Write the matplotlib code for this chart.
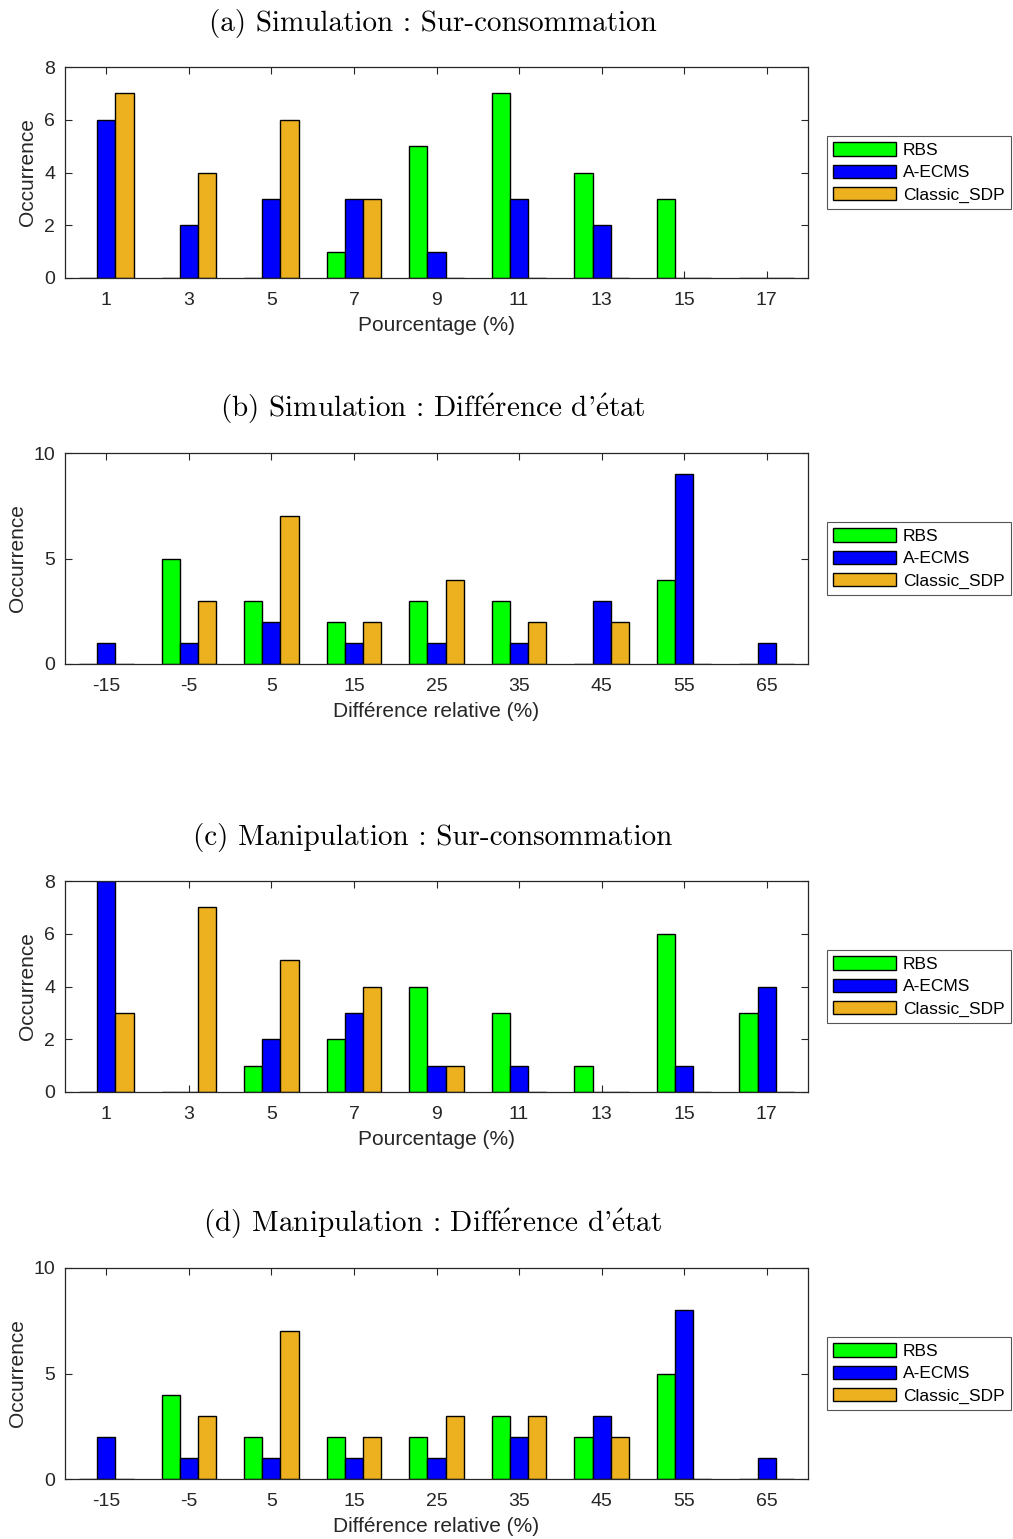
import numpy as np
import matplotlib
matplotlib.use("Agg")
import matplotlib.pyplot as plt

# Data
series_names = ["RBS", "A-ECMS", "Classic_SDP"]
bar_colors = ["#00ff00", "#0000ff", "#edb120"]

pct_labels = ["1", "3", "5", "7", "9", "11", "13", "15", "17"]
diff_labels = ["-15", "-5", "5", "15", "25", "35", "45", "55", "65"]

# (a) Simulation : Sur-consommation
sim_sur_rbs = [0, 0, 0, 1, 5, 7, 4, 3, 0]
sim_sur_aecms = [6, 2, 3, 3, 1, 3, 2, 0, 0]
sim_sur_sdp = [7, 4, 6, 3, 0, 0, 0, 0, 0]

# (b) Simulation : Difference d'etat
sim_diff_rbs = [0, 5, 3, 2, 3, 3, 0, 4, 0]
sim_diff_aecms = [1, 1, 2, 1, 1, 1, 3, 9, 1]
sim_diff_sdp = [0, 3, 7, 2, 4, 2, 2, 0, 0]

# (c) Manipulation : Sur-consommation
man_sur_rbs = [0, 0, 1, 2, 4, 3, 1, 6, 3]
man_sur_aecms = [8, 0, 2, 3, 1, 1, 0, 1, 4]
man_sur_sdp = [3, 7, 5, 4, 1, 0, 0, 0, 0]

# (d) Manipulation : Difference d'etat
man_diff_rbs = [0, 4, 2, 2, 2, 3, 2, 5, 0]
man_diff_aecms = [2, 1, 1, 1, 1, 2, 3, 8, 1]
man_diff_sdp = [0, 3, 7, 2, 3, 3, 2, 0, 0]

# titles: accents drawn with mathtext (cmr10 has no é); "'" is a right quote in cmr10
panels = [
    ("(a) Simulation : Sur-consommation", pct_labels, "Pourcentage (%)",
     [sim_sur_rbs, sim_sur_aecms, sim_sur_sdp], 8, [0, 2, 4, 6, 8]),
    (r"(b) Simulation : Diff$\mathrm{\acute{e}}$rence d'$\mathrm{\acute{e}}$tat", diff_labels,
     "Différence relative (%)",
     [sim_diff_rbs, sim_diff_aecms, sim_diff_sdp], 10, [0, 5, 10]),
    ("(c) Manipulation : Sur-consommation", pct_labels, "Pourcentage (%)",
     [man_sur_rbs, man_sur_aecms, man_sur_sdp], 8, [0, 2, 4, 6, 8]),
    (r"(d) Manipulation : Diff$\mathrm{\acute{e}}$rence d'$\mathrm{\acute{e}}$tat", diff_labels,
     "Différence relative (%)",
     [man_diff_rbs, man_diff_aecms, man_diff_sdp], 10, [0, 5, 10]),
]

plt.rcParams["font.family"] = ["Liberation Sans", "DejaVu Sans"]
plt.rcParams["mathtext.fontset"] = "cm"
axcol = "#262626"

W, H = 1013, 1539
fig = plt.figure(figsize=(W / 100, H / 100), dpi=100)

# axes boxes in pixels (top, bottom)
boxes = [(67, 278), (453, 664), (881, 1092), (1268, 1479)]
left_px, right_px = 65, 808

bw = 0.22
for (title, labels, xlabel, vals, ymax, yticks), (top, bot) in zip(panels, boxes):
    ax = fig.add_axes([left_px / W, 1 - bot / H, (right_px - left_px) / W, (bot - top) / H])
    x = np.arange(len(labels))
    for k, (v, c, name) in enumerate(zip(vals, bar_colors, series_names)):
        ax.bar(x + (k - 1) * bw, v, width=bw, color=c, edgecolor="black",
               linewidth=1.0, label=name, zorder=2)
    ax.set_xlim(-0.5, len(labels) - 0.5)
    ax.set_ylim(0, ymax)
    ax.set_xticks(x)
    ax.set_xticklabels(labels)
    ax.set_yticks(yticks)
    ax.tick_params(direction="in", top=True, right=True, length=5, width=0.8,
                   colors=axcol, labelsize=14, pad=7)
    ax.tick_params(axis="x", pad=10)
    for s in ax.spines.values():
        s.set_color(axcol)
        s.set_linewidth(0.9)
    ax.set_xlabel(xlabel, fontsize=15, color=axcol, labelpad=5)
    ax.set_ylabel("Occurrence", fontsize=15, color=axcol, labelpad=5)
    ax.text(0.495, 1 + 44 / (bot - top), title, transform=ax.transAxes,
            ha="center", va="center", fontsize=21,
            family=["cmr10", "DejaVu Serif"])
    leg = ax.legend(loc="center left", bbox_to_anchor=(1.026, 0.5), fontsize=12.5,
                    fancybox=False, edgecolor="#555555", framealpha=1,
                    handlelength=3.6, handleheight=0.8, handletextpad=0.4,
                    labelspacing=0.37, borderpad=0.35, borderaxespad=0)
    leg.get_frame().set_linewidth(0.8)

fig.savefig("out.png", dpi=100)
